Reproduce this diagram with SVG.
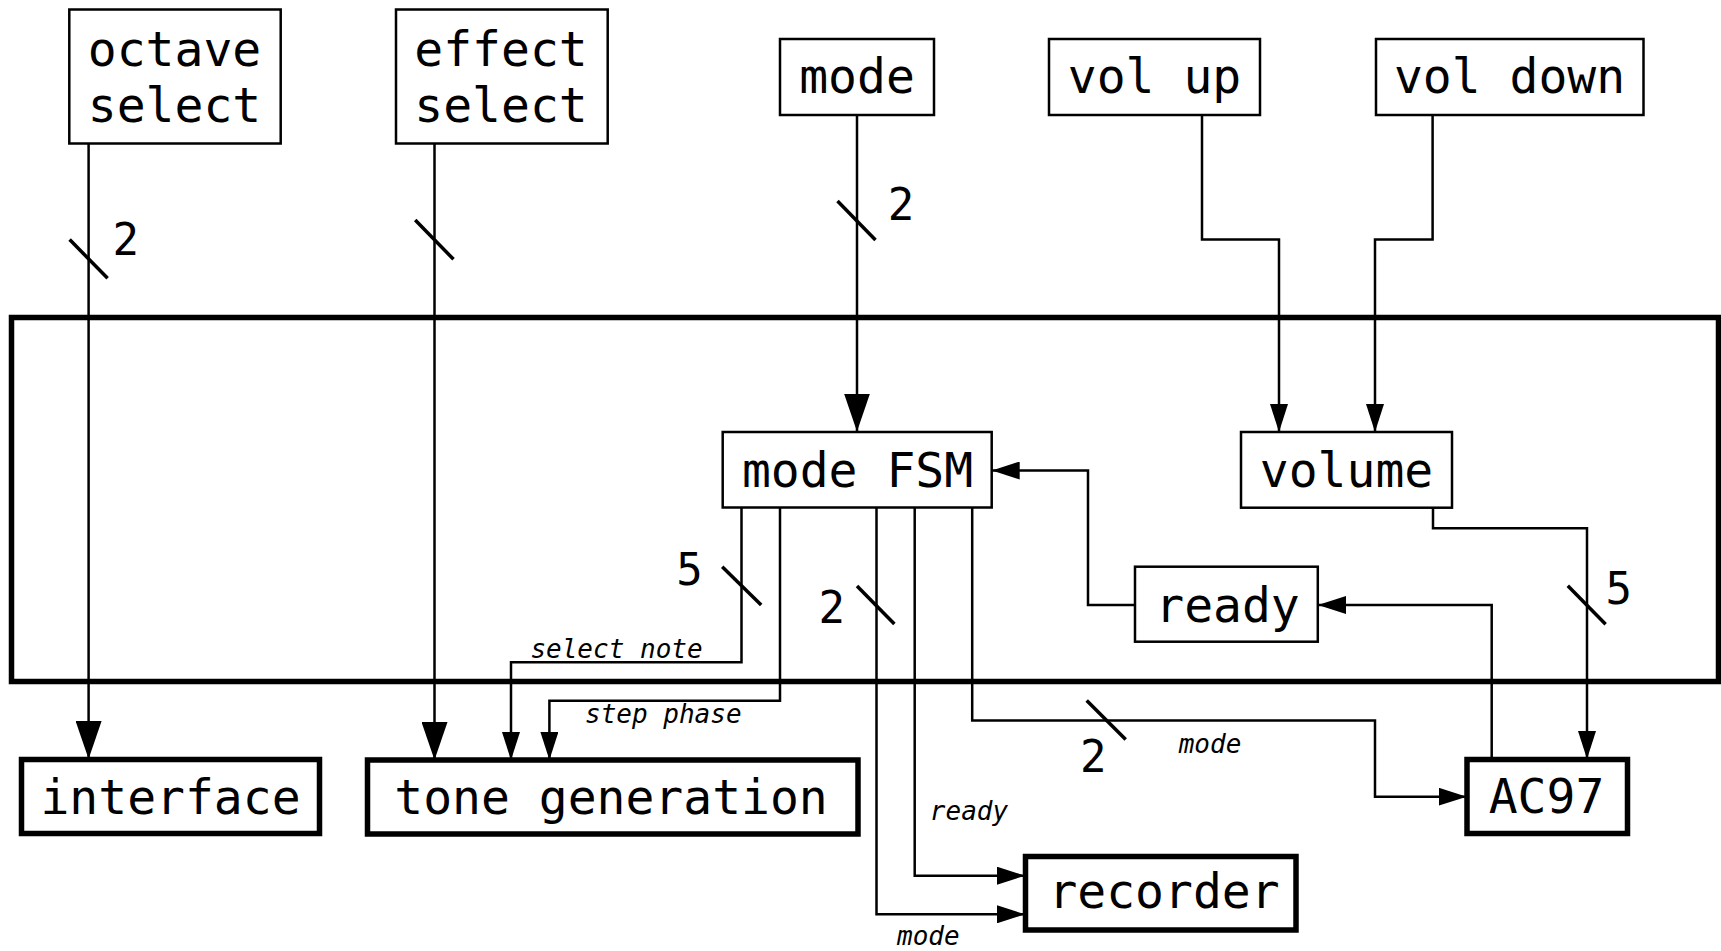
<svg xmlns="http://www.w3.org/2000/svg" width="1721" height="951" viewBox="0 0 1721 951">
<style>
.bg{fill:#fff}
.box{fill:#fff;stroke:#000;stroke-width:2.5}
.tbox{fill:#fff;stroke:#000;stroke-width:5.5}
.frame{fill:none;stroke:#000;stroke-width:5.5}
.t{font-family:"DejaVu Sans Mono",monospace;font-size:48px;fill:#000;text-anchor:middle}
.n{font-family:"DejaVu Sans Mono",monospace;font-size:44px;fill:#000;text-anchor:middle}
.l{font-family:"DejaVu Sans Mono",monospace;font-size:26px;font-style:italic;fill:#000;text-anchor:middle}
.c{fill:none;stroke:#000;stroke-width:2.5}
.s{fill:none;stroke:#000;stroke-width:3.5}
</style>
<defs>
<marker id="big" markerUnits="userSpaceOnUse" markerWidth="38" markerHeight="26" refX="38" refY="13" orient="auto"><path d="M0,0 L38,13 L0,26 z" fill="#000"/></marker>
<marker id="sm" markerUnits="userSpaceOnUse" markerWidth="28" markerHeight="18" refX="28" refY="9" orient="auto"><path d="M0,0 L28,9 L0,18 z" fill="#000"/></marker>
</defs>
<rect class="bg" x="0" y="0" width="1721" height="951"/>
<rect class="frame" x="11.5" y="317.5" width="1707" height="364"/>

<g id="connectors">
<path class="c" d="M88.6,144 V759" marker-end="url(#big)"/>
<path class="c" d="M434.5,144 V760" marker-end="url(#big)"/>
<path class="c" d="M857,115 V431.5" marker-end="url(#big)"/>
<path class="c" d="M1202,115 V239.5 H1279 V432" marker-end="url(#sm)"/>
<path class="c" d="M1432.6,115 V239.5 H1375 V432" marker-end="url(#sm)"/>
<path class="c" d="M741.5,507.5 V662.3 H511 V760" marker-end="url(#sm)"/>
<path class="c" d="M780,507.5 V700.7 H549.4 V760" marker-end="url(#sm)"/>
<path class="c" d="M876.5,507.5 V914.3 H1025" marker-end="url(#sm)"/>
<path class="c" d="M914.7,507.5 V875.7 H1025" marker-end="url(#sm)"/>
<path class="c" d="M972.2,507.5 V720.5 H1375 V796.7 H1466.7" marker-end="url(#sm)"/>
<path class="c" d="M1135,605 H1088 V470.5 H991.7" marker-end="url(#sm)"/>
<path class="c" d="M1491.7,759 V605 H1318" marker-end="url(#sm)"/>
<path class="c" d="M1433,507.7 V528.3 H1587 V759" marker-end="url(#sm)"/>
<line class="s" x1="69.6" y1="239.5" x2="107.6" y2="278.3"/>
<line class="s" x1="415.2" y1="220" x2="453.5" y2="259.3"/>
<line class="s" x1="837.5" y1="201" x2="875.5" y2="240"/>
<line class="s" x1="722.2" y1="566.7" x2="761.2" y2="605"/>
<line class="s" x1="857" y1="586" x2="894.4" y2="624"/>
<line class="s" x1="1567.8" y1="585.7" x2="1605.6" y2="624.3"/>
<line class="s" x1="1086.7" y1="700.5" x2="1125.7" y2="739.5"/>
<text class="n" x="125.8" y="255">2</text>
<text class="n" x="901" y="220">2</text>
<text class="n" x="689.5" y="585">5</text>
<text class="n" x="831.7" y="623.3">2</text>
<text class="n" x="1618.7" y="604">5</text>
<text class="n" x="1093.3" y="771.7">2</text>
<text class="l" x="616.5" y="658.3">select note</text>
<text class="l" x="663.3" y="722.5">step phase</text>
<text class="l" x="969" y="820">ready</text>
<text class="l" x="928.3" y="945">mode</text>
<text class="l" x="1210" y="753.3">mode</text>
</g>

<g id="octave-select"><rect class="box" x="69.3" y="9.5" width="211.4" height="134"/><text class="t" x="174.5" y="66">octave</text><text class="t" x="174.5" y="122">select</text></g>
<g id="effect-select"><rect class="box" x="396" y="9.5" width="211.7" height="134"/><text class="t" x="501" y="66">effect</text><text class="t" x="501" y="122">select</text></g>
<g id="mode"><rect class="box" x="780" y="39" width="154" height="76"/><text class="t" x="857" y="93.3">mode</text></g>
<g id="vol-up"><rect class="box" x="1049" y="39" width="211" height="76"/><text class="t" x="1154.5" y="93.3">vol up</text></g>
<g id="vol-down"><rect class="box" x="1376" y="39" width="267.5" height="76"/><text class="t" x="1509.5" y="93.3">vol down</text></g>
<g id="mode-fsm"><rect class="box" x="722.7" y="432" width="269" height="75.5"/><text class="t" x="857.5" y="486.7">mode FSM</text></g>
<g id="volume"><rect class="box" x="1241" y="432" width="211" height="75.7"/><text class="t" x="1346.5" y="486.7">volume</text></g>
<g id="ready"><rect class="box" x="1135" y="566.7" width="182.8" height="75"/><text class="t" x="1227.5" y="621.7">ready</text></g>
<g id="interface"><rect class="tbox" x="21.5" y="759.5" width="298" height="74"/><text class="t" x="170.5" y="814">interface</text></g>
<g id="tone-generation"><rect class="tbox" x="367.5" y="760" width="490.5" height="74"/><text class="t" x="611" y="813.5">tone generation</text></g>
<g id="ac97"><rect class="tbox" x="1467" y="759.5" width="160.5" height="74"/><text class="t" x="1546.5" y="813.3">AC97</text></g>
<g id="recorder"><rect class="tbox" x="1025.5" y="856.5" width="270.5" height="73.5"/><text class="t" x="1164" y="908.3">recorder</text></g>
</svg>
